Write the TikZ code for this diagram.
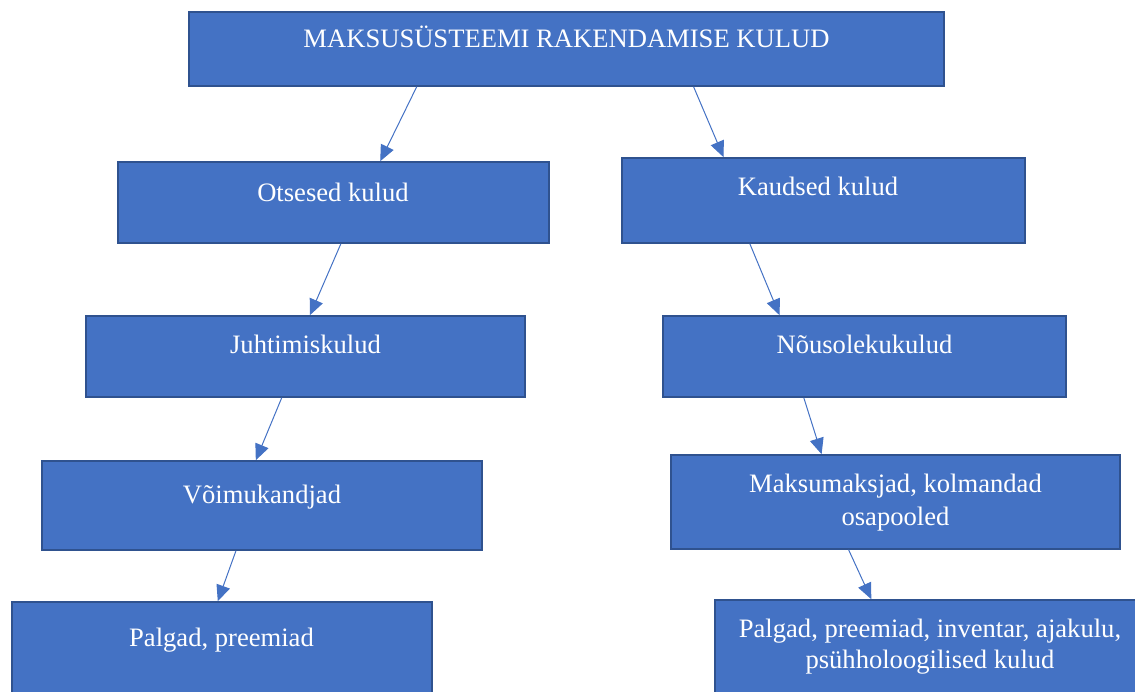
\documentclass[tikz,border=0pt]{standalone}
\usepackage{fontspec}
\setmainfont{Liberation Serif}
\usetikzlibrary{arrows.meta,calc}
\definecolor{boxfill}{HTML}{4472C4}
\definecolor{boxline}{HTML}{2F528F}
\begin{document}
\begin{tikzpicture}[x=1pt,y=-1pt,
  box/.style={draw=boxline,fill=boxfill,line width=1.6pt,inner sep=0pt,rectangle},
  lbl/.style={text=white,inner sep=0pt,anchor=base,align=center,font=\fontsize{26.6}{33}\selectfont},
  arr/.style={draw=boxfill,line width=1pt,-{Triangle[length=16pt,width=14pt]}}]
\useasboundingbox (0,0) rectangle (1135,691);
\clip (0,0) rectangle (1135,691);
% boxes
\node[box,minimum width=755pt,minimum height=74pt] (T) at (566.5,49) {};
\node[box,minimum width=431pt,minimum height=81pt] (O) at (333.5,202.5) {};
\node[box,minimum width=403pt,minimum height=85pt] (K) at (823.5,200.5) {};
\node[box,minimum width=439pt,minimum height=81pt] (J) at (305.5,356.5) {};
\node[box,minimum width=403pt,minimum height=81pt] (N) at (864.5,356.5) {};
\node[box,minimum width=440pt,minimum height=89pt] (V) at (262,505.5) {};
\node[box,minimum width=449pt,minimum height=94pt] (M) at (895.5,502) {};
\node[box,minimum width=420pt,minimum height=118pt] (PL) at (222,661) {};
\node[box,minimum width=430pt,minimum height=120pt] (PR) at (930,660) {};
% texts
\node[lbl] (tT) at (566.5,47) {MAKSUSÜSTEEMI RAKENDAMISE KULUD};
\node[lbl] (tO) at (333,201) {Otsesed kulud};
\node[lbl] (tK) at (818,195) {Kaudsed kulud};
\node[lbl] (tJ) at (305.5,353) {Juhtimiskulud};
\node[lbl] (tN) at (864.5,353) {Nõusolekukulud};
\node[lbl] (tV) at (262,503) {Võimukandjad};
\node[lbl] (tM1) at (895.5,492) {Maksumaksjad, kolmandad};
\node[lbl] (tM2) at (895.5,525) {osapooled};
\node[lbl] (tPL) at (221.5,646) {Palgad, preemiad};
\node[lbl] (tPR1) at (930,637) {Palgad, preemiad, inventar, ajakulu,};
\node[lbl] (tPR2) at (930,668) {psühholoogilised kulud};
% connectors
\draw[arr] ($(T.south west)!0.302!(T.south east)$) -- ($(O.north west)!0.608!(O.north east)$);
\draw[arr] ($(T.south west)!0.668!(T.south east)$) -- ($(K.north west)!0.253!(K.north east)$);
\draw[arr] ($(O.south west)!0.517!(O.south east)$) -- ($(J.north west)!0.510!(J.north east)$);
\draw[arr] ($(K.south west)!0.318!(K.south east)$) -- ($(N.north west)!0.290!(N.north east)$);
\draw[arr] ($(J.south west)!0.446!(J.south east)$) -- ($(V.north west)!0.486!(V.north east)$);
\draw[arr] ($(N.south west)!0.350!(N.south east)$) -- ($(M.north west)!0.336!(M.north east)$);
\draw[arr] ($(V.south west)!0.441!(V.south east)$) -- ($(PL.north west)!0.490!(PL.north east)$);
\draw[arr] ($(M.south west)!0.396!(M.south east)$) -- ($(PR.north west)!0.364!(PR.north east)$);
\end{tikzpicture}
\end{document}
